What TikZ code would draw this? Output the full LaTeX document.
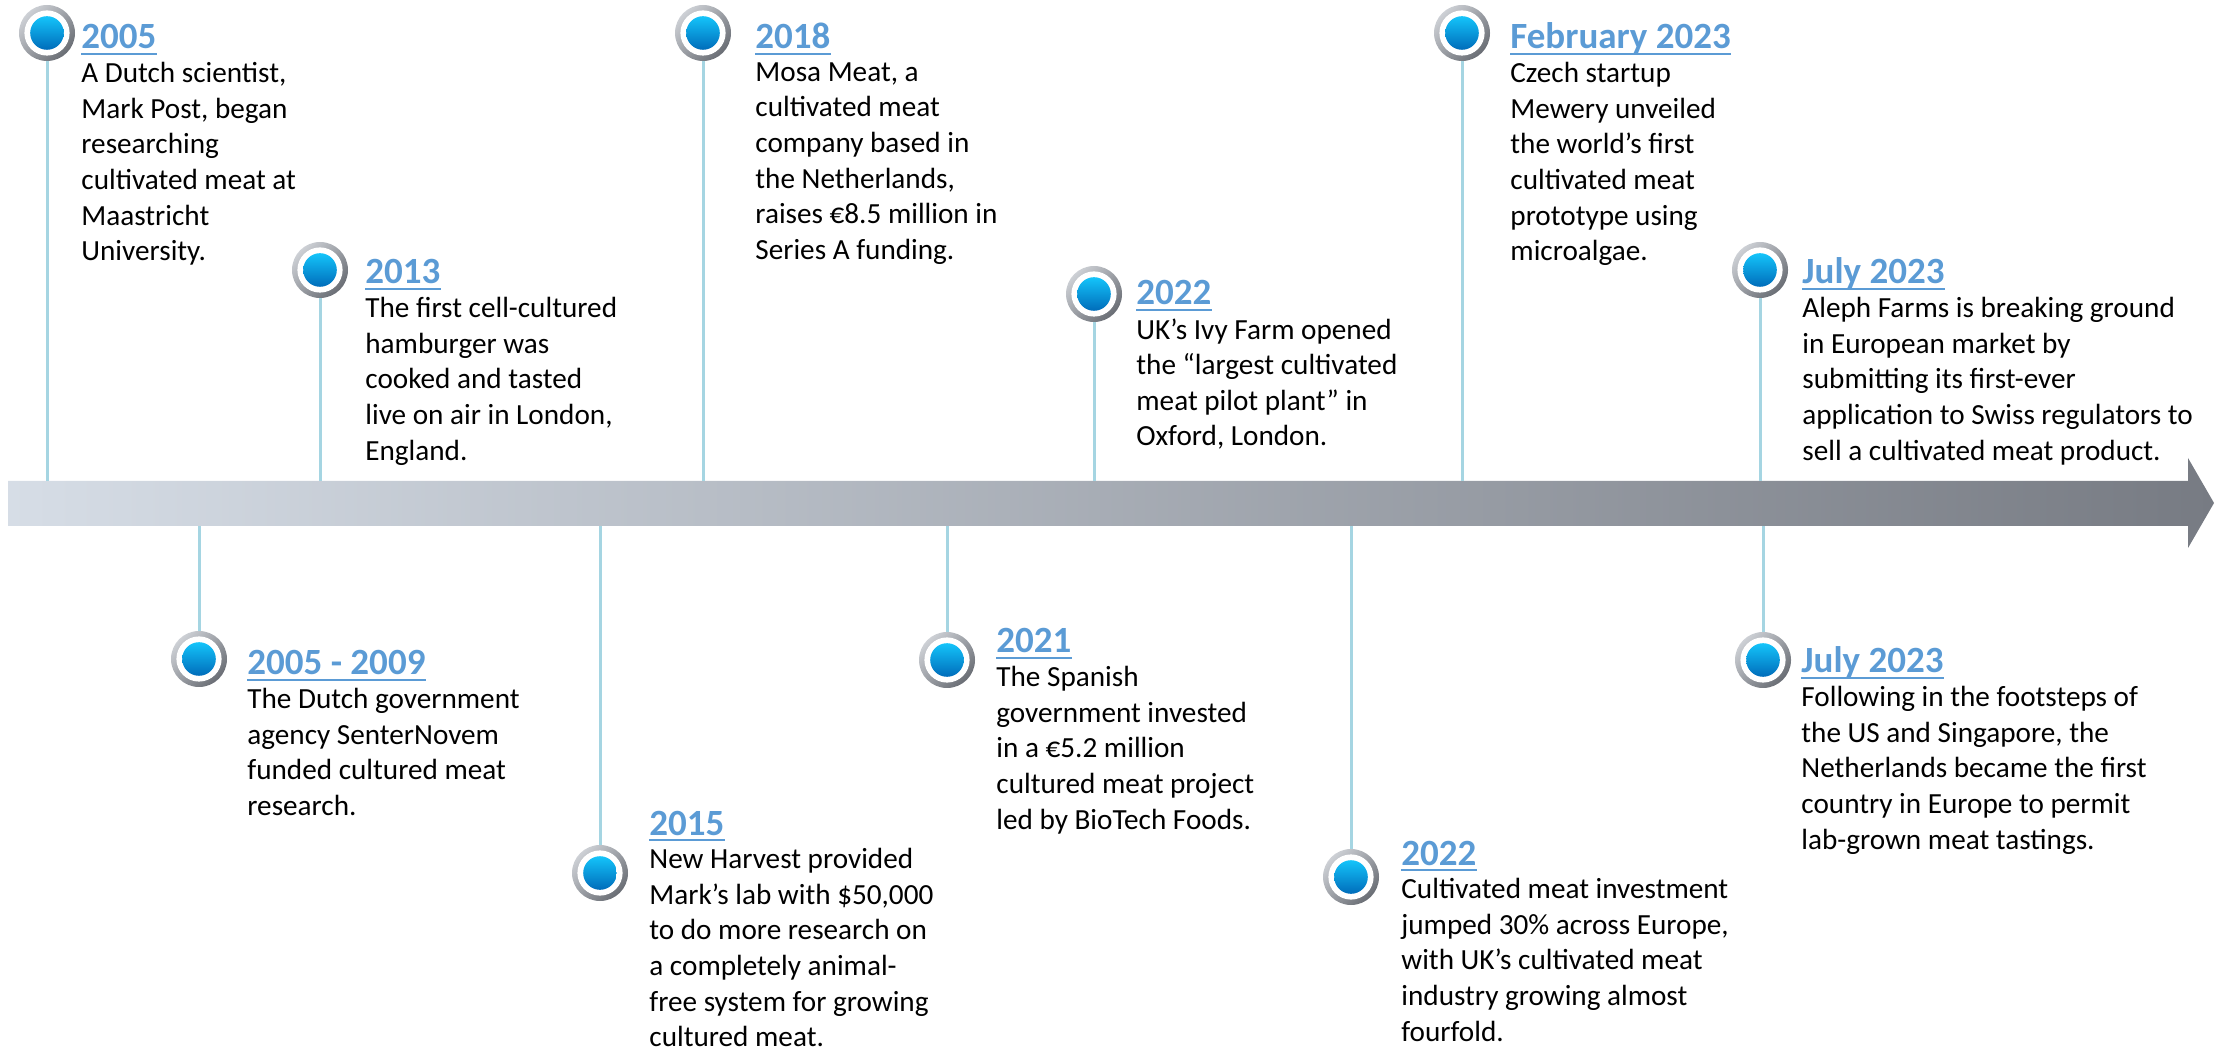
\documentclass[tikz,border=0pt]{standalone}
\usepackage{fontspec}
\setmainfont{Carlito}

\definecolor{stemblue}{RGB}{165,213,226}
\definecolor{yearblue}{RGB}{91,155,213}
\definecolor{barlight}{RGB}{214,221,230}
\definecolor{bardark}{RGB}{119,123,131}
\definecolor{ringlight}{RGB}{205,208,213}
\definecolor{ringdark}{RGB}{105,109,116}
\definecolor{balltop}{RGB}{20,196,250}
\definecolor{ballbot}{RGB}{0,108,186}

\tikzset{
  marker/.style={circle, inner sep=0pt, minimum size=28pt,
    top color=ringlight, bottom color=ringdark, shading angle=45,
    path picture={
      \fill[white] (path picture bounding box.center) circle (11.3pt);
      \shade[top color=balltop, bottom color=ballbot]
        (path picture bounding box.center) circle (8.4pt);
    }},
  year/.style={inner sep=0pt, anchor=base west, text=yearblue,
    font=\fontsize{18.5}{22}\selectfont\bfseries},
  % the strut fixes the top of the first line at 0.7\baselineskip
  body/.style={inner sep=0pt, anchor=north west, align=left, yshift=12.46pt,
    font=\fontsize{14.6}{17.8}\selectfont, execute at begin node=\strut},
  stem/.style={stemblue, line width=1.5pt},
  yearline/.style={yearblue, line width=1pt}
}

\begin{document}
\begin{tikzpicture}[x=0.5pt, y=-0.5pt]
      \useasboundingbox (0,0) rectangle (2226,1052);

      % Timeline bar with its head
      \coordinate (shafttop) at (0,481);
      \coordinate (shaftbot) at (0,526);
      \shade[left color=barlight, right color=bardark]
        (8,481) -- (2188,481) -- (2188,458) -- (2214,503)
        -- (2188,548) -- (2188,526) -- (8,526) -- cycle;

      % Milestones: marker x/y, text x, year baseline, year, text, side of bar
      \foreach \mx/\my/\tx/\ty/\yr/\txt/\side [count=\n] in {
        47/33/81/49/{2005}/{A Dutch scientist,\\Mark Post, began\\researching\\cultivated meat at\\Maastricht\\University.}/shafttop,
        320/270/365/284/{2013}/{The first cell-cultured\\hamburger was\\cooked and tasted\\live on air in London,\\England.}/shafttop,
        703/33/755/49/{2018}/{Mosa Meat, a\\cultivated meat\\company based in\\the Netherlands,\\raises €8.5 million in\\Series A funding.}/shafttop,
        1094/294/1136/305/{2022}/{UK’s Ivy Farm opened\\the “largest cultivated\\meat pilot plant” in\\Oxford, London.}/shafttop,
        1462/33/1510/49/{February 2023}/{Czech startup\\Mewery unveiled\\the world’s first\\cultivated meat\\prototype using\\microalgae.}/shafttop,
        1760/270/1802/284/{July 2023}/{Aleph Farms is breaking ground\\in European market by\\submitting its first-ever\\application to Swiss regulators to\\sell a cultivated meat product.}/shafttop,
        199/659/247/675/{2005 - 2009}/{The Dutch government\\agency SenterNovem\\funded cultured meat\\research.}/shaftbot,
        600/873/649/835/{2015}/{New Harvest provided\\Mark’s lab with \$50,000\\to do more research on\\a completely animal-\\free system for growing\\cultured meat.}/shaftbot,
        947/660/996/653/{2021}/{The Spanish\\government invested\\in a €5.2 million\\cultured meat project\\led by BioTech Foods.}/shaftbot,
        1351/877/1401/865/{2022}/{Cultivated meat investment\\jumped 30\% across Europe,\\with UK’s cultivated meat\\industry growing almost\\fourfold.}/shaftbot,
        1763/660/1801/673/{July 2023}/{Following in the footsteps of\\the US and Singapore, the\\Netherlands became the first\\country in Europe to permit\\lab-grown meat tastings.}/shaftbot} {
        \node[marker] (m\n) at (\mx,\my) {};
        \node[year] (t\n) at (\tx,\ty) {\yr};
        \draw[yearline] ([yshift=-2.5pt]t\n.base west) -- ([yshift=-2.5pt]t\n.base east);
        \node[body] (b\n) at (\tx,\ty+38) {\txt};
        % stem from the marker to the bar
        \draw[stem] (m\n) -- (m\n |- \side);
      }
    \end{tikzpicture}
\end{document}
